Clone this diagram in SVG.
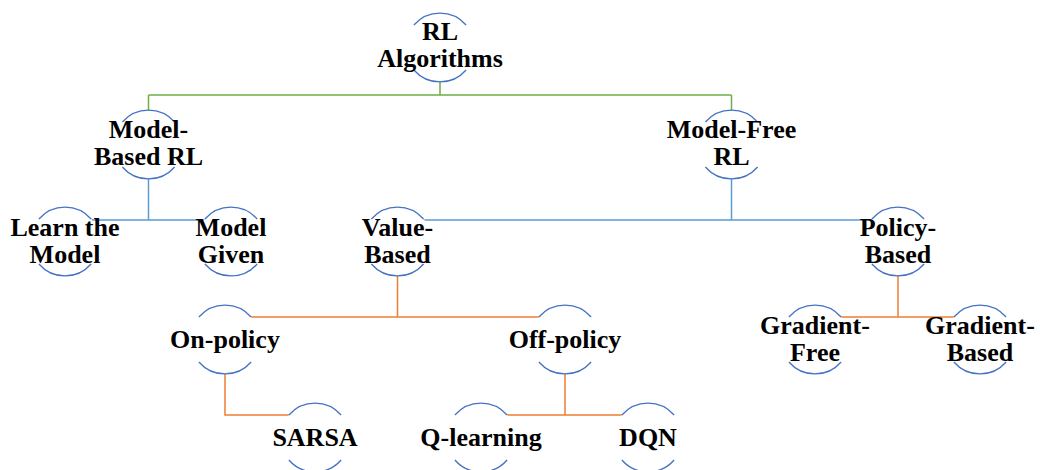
<svg xmlns="http://www.w3.org/2000/svg" xmlns:xlink="http://www.w3.org/1999/xlink" width="1040" height="470" viewBox="0 0 1040 470">
<style>
.t{font-family:"Liberation Serif","Times New Roman",serif;font-weight:bold;font-size:26px;fill:#000;text-anchor:middle}
.g{stroke:#70AD47;stroke-width:1.5;fill:none}
.b{stroke:#5B9BD5;stroke-width:1.5;fill:none}
.o{stroke:#ED7D31;stroke-width:1.5;fill:none}
</style>
<defs>
<g id="ring">
<circle r="34.5" fill="#fff"/>
<path d="M-26.1,-22.5 A34.5,34.5 0 0 1 26.1,-22.5 M-26.1,22.5 A34.5,34.5 0 0 0 26.1,22.5" fill="none" stroke="#4472C4" stroke-width="1.3"/>
</g>
</defs>
<rect width="1040" height="470" fill="#fff"/>
<g id="connectors">
<path class="g" d="M440,47.5V95M148.5,95H731.5M148.5,95V144.5M731.5,95V144.5"/>
<path class="b" d="M148.5,144.5V220M65,220H231M65,220V241.5M231,220V241.5"/>
<path class="b" d="M731.5,144.5V220M397.5,220H898M397.5,220V241.5M898,220V241.5"/>
<path class="o" d="M397.5,241.5V317M225,317H565M225,317V339.5M565,317V339.5"/>
<path class="o" d="M898,241.5V317M815,317H980M815,317V339.5M980,317V339.5"/>
<path class="o" d="M225,339.5V415H315V437.5"/>
<path class="o" d="M565,339.5V415M481,415H648M481,415V437.5M648,415V437.5"/>
</g>
<g id="n-root"><use xlink:href="#ring" x="440" y="47.5"/><text class="t" x="440" y="40">RL</text><text class="t" x="440" y="67">Algorithms</text></g>
<g id="n-model-based"><use xlink:href="#ring" x="148.5" y="144.5"/><text class="t" x="148.5" y="138">Model-</text><text class="t" x="148.5" y="165">Based RL</text></g>
<g id="n-model-free"><use xlink:href="#ring" x="731.5" y="144.5"/><text class="t" x="731.5" y="138">Model-Free</text><text class="t" x="731.5" y="165">RL</text></g>
<g id="n-learn"><use xlink:href="#ring" x="65" y="241.5"/><text class="t" x="65" y="235.5">Learn the</text><text class="t" x="65" y="262.5">Model</text></g>
<g id="n-given"><use xlink:href="#ring" x="231" y="241.5"/><text class="t" x="231" y="235.5">Model</text><text class="t" x="231" y="262.5">Given</text></g>
<g id="n-value"><use xlink:href="#ring" x="397.5" y="241.5"/><text class="t" x="397.5" y="235.5">Value-</text><text class="t" x="397.5" y="262.5">Based</text></g>
<g id="n-policy"><use xlink:href="#ring" x="898" y="241.5"/><text class="t" x="898" y="235.5">Policy-</text><text class="t" x="898" y="262.5">Based</text></g>
<g id="n-on"><use xlink:href="#ring" x="225" y="339.5"/><text class="t" x="225" y="347.5">On-policy</text></g>
<g id="n-off"><use xlink:href="#ring" x="565" y="339.5"/><text class="t" x="565" y="347.5">Off-policy</text></g>
<g id="n-gfree"><use xlink:href="#ring" x="815" y="339.5"/><text class="t" x="815" y="333.5">Gradient-</text><text class="t" x="815" y="360.5">Free</text></g>
<g id="n-gbased"><use xlink:href="#ring" x="980" y="339.5"/><text class="t" x="980" y="333.5">Gradient-</text><text class="t" x="980" y="360.5">Based</text></g>
<g id="n-sarsa"><use xlink:href="#ring" x="315" y="437.5"/><text class="t" x="315" y="446">SARSA</text></g>
<g id="n-q"><use xlink:href="#ring" x="481" y="437.5"/><text class="t" x="481" y="446">Q-learning</text></g>
<g id="n-dqn"><use xlink:href="#ring" x="648" y="437.5"/><text class="t" x="648" y="446">DQN</text></g>
</svg>
